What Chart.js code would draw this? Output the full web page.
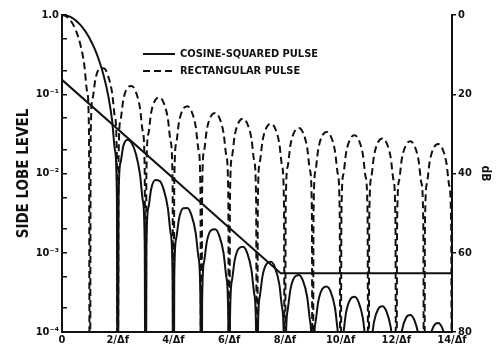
<!DOCTYPE html>
<html>
<head>
<meta charset="utf-8">
<script src="https://cdn.jsdelivr.net/npm/chart.js@4.4.1/dist/chart.umd.min.js"></script>
<style>
  html, body { margin: 0; padding: 0; background: #fff; }
  #wrap { width: 497px; height: 348px; }
</style>
</head>
<body>
<div id="wrap"><canvas id="lobes"></canvas></div>
<script>
// frequency in units of 1/Δf
var freq = [
  0, 0.03, 0.1, 0.2, 0.35, 0.5, 0.65, 0.8, 0.9, 0.97,
  1, 1.03, 1.1, 1.2, 1.35, 1.5, 1.65, 1.8, 1.9, 1.97,
  2, 2.03, 2.1, 2.2, 2.35, 2.5, 2.65, 2.8, 2.9, 2.97,
  3, 3.03, 3.1, 3.2, 3.35, 3.5, 3.65, 3.8, 3.9, 3.97,
  4, 4.03, 4.1, 4.2, 4.35, 4.5, 4.65, 4.8, 4.9, 4.97,
  5, 5.03, 5.1, 5.2, 5.35, 5.5, 5.65, 5.8, 5.9, 5.97,
  6, 6.03, 6.1, 6.2, 6.35, 6.5, 6.65, 6.8, 6.9, 6.97,
  7, 7.03, 7.1, 7.2, 7.35, 7.5, 7.65, 7.8, 7.9, 7.97,
  8, 8.03, 8.1, 8.2, 8.35, 8.5, 8.65, 8.8, 8.9, 8.97,
  9, 9.03, 9.1, 9.2, 9.35, 9.5, 9.65, 9.8, 9.9, 9.97,
  10, 10.03, 10.1, 10.2, 10.35, 10.5, 10.65, 10.8, 10.9, 10.97,
  11, 11.03, 11.1, 11.2, 11.35, 11.5, 11.65, 11.8, 11.9, 11.97,
  12, 12.03, 12.1, 12.2, 12.35, 12.5, 12.65, 12.8, 12.9, 12.97,
  13, 13.03, 13.1, 13.2, 13.35, 13.5, 13.65, 13.8, 13.9, 13.97,
  14
];

// cosine-squared pulse (solid)
var cosSquared = [
  1, 0.9994, 0.9935, 0.9745, 0.9234, 0.8488, 0.7555, 0.6497, 0.5753, 0.5228,
  0.5, 0.4775, 0.4258, 0.3544, 0.2554, 0.1698, 0.0998, 0.0464, 0.01983, 0.00528,
  1e-7, 0.004729, 0.01374, 0.02215, 0.02669, 0.02425, 0.01777, 0.009773, 0.004576, 0.001289,
  1e-7, 0.001208, 0.003685, 0.00633, 0.008282, 0.008084, 0.006306, 0.003664, 0.001775, 0.0005111,
  1e-7, 0.0004876, 0.001517, 0.002678, 0.003638, 0.003675, 0.002957, 0.001769, 0.0008722, 0.0002543,
  1e-7, 0.000245, 0.0007713, 0.001382, 0.001919, 0.001978, 0.001623, 0.0009887, 0.000493, 0.0001448,
  1e-7, 0.0001405, 0.0004452, 0.0008064, 0.001136, 0.001187, 0.0009868, 0.0006083, 0.0003057, 0.00009031,
  1e-7, 0.000088, 0.0002803, 0.0005114, 0.0007278, 0.0007681, 0.0006445, 0.0004011, 0.0002027, 0.0000601,
  1e-7, 0.00005876, 0.0001879, 0.0003447, 0.0004943, 0.0005256, 0.0004442, 0.0002783, 0.0001413, 0.00004202,
  1e-7, 0.00004118, 0.0001321, 0.0002432, 0.000351, 0.0003755, 0.000319, 0.000201, 0.0001024, 0.00003053,
  1e-7, 0.00002998, 0.0000964, 0.0001781, 0.0002582, 0.0002775, 0.0002369, 0.0001499, 0.0000766, 0.00002288,
  1e-7, 0.00002251, 0.0000725, 0.0001343, 0.0001955, 0.0002109, 0.0001807, 0.0001147, 0.00005878, 0.00001759,
  1e-7, 0.00001733, 0.0000559, 0.0001038, 0.0001515, 0.000164, 0.000141, 0.00008978, 0.0000461, 0.00001381,
  1e-7, 0.00001362, 0.000044, 0.00008185, 0.0001199, 0.0001301, 0.0001121, 0.00007158, 0.00003681, 0.00001104,
  1e-7
];

// rectangular pulse (dashed)
var rectangular = [
  1, 0.9985, 0.9836, 0.9355, 0.8103, 0.6366, 0.4363, 0.2339, 0.1093, 0.0309,
  1e-7, 0.02908, 0.08941, 0.156, 0.2101, 0.2122, 0.1719, 0.104, 0.05177, 0.0152,
  1e-7, 0.01476, 0.04684, 0.08507, 0.1207, 0.1273, 0.107, 0.06685, 0.03391, 0.01008,
  1e-7, 0.009885, 0.03173, 0.05849, 0.08466, 0.09095, 0.0777, 0.04925, 0.02522, 0.007545,
  1e-7, 0.007432, 0.02399, 0.04456, 0.0652, 0.07074, 0.06099, 0.03899, 0.02007, 0.006027,
  1e-7, 0.005955, 0.01929, 0.03599, 0.05301, 0.05787, 0.0502, 0.03227, 0.01667, 0.005017,
  1e-7, 0.004967, 0.01612, 0.03019, 0.04466, 0.04897, 0.04265, 0.02752, 0.01425, 0.004297,
  1e-7, 0.004261, 0.01385, 0.026, 0.03859, 0.04244, 0.03707, 0.024, 0.01245, 0.003758,
  1e-7, 0.00373, 0.01214, 0.02283, 0.03397, 0.03745, 0.03279, 0.02127, 0.01105, 0.003339,
  1e-7, 0.003317, 0.01081, 0.02034, 0.03033, 0.03351, 0.02939, 0.0191, 0.009935, 0.003004,
  1e-7, 0.002986, 0.009738, 0.01835, 0.0274, 0.03032, 0.02663, 0.01733, 0.009024, 0.00273,
  1e-7, 0.002716, 0.008861, 0.01671, 0.02499, 0.02768, 0.02434, 0.01586, 0.008265, 0.002502,
  1e-7, 0.00249, 0.008129, 0.01534, 0.02296, 0.02546, 0.02242, 0.01462, 0.007625, 0.002309,
  1e-7, 0.002299, 0.007508, 0.01418, 0.02124, 0.02358, 0.02078, 0.01356, 0.007076, 0.002144,
  1e-7
];

// straight envelope line
var envFreq = [0, 7.85, 14];
var envLevel = [0.152, 0.00055, 0.00055];

var leftTicks = [0.0001, 0.0002, 0.0005, 0.001, 0.002, 0.005, 0.01, 0.02, 0.05, 0.1, 0.2, 0.5, 1];
var leftLabels = ['10\u207B\u2074', '', '', '10\u207B\u00B3', '', '', '10\u207B\u00B2', '', '', '10\u207B\u00B9', '', '', '1.0'];
var dbTicks = [0, 20, 40, 60, 80];
var xTicks = [0, 2, 4, 6, 8, 10, 12, 14];
var legendNames = ['COSINE-SQUARED PULSE', 'RECTANGULAR PULSE'];

var FONT = "'DejaVu Sans Condensed', 'Liberation Sans Narrow', 'DejaVu Sans', sans-serif";
var INK = '#111';

function points(xs, ys) {
  var out = [];
  for (var i = 0; i < xs.length; i++) out.push({x: xs[i], y: ys[i]});
  return out;
}

var legendPlugin = {
  id: 'pulseLegend',
  afterDraw: function(chart) {
    var ctx = chart.ctx;
    var rows = [{y: 54, ds: chart.data.datasets[0]}, {y: 71, ds: chart.data.datasets[1]}];
    ctx.save();
    ctx.font = 'bold 11px ' + FONT;
    ctx.textBaseline = 'middle';
    ctx.fillStyle = INK;
    rows.forEach(function(r, i) {
      ctx.strokeStyle = r.ds.borderColor;
      ctx.lineWidth = r.ds.borderWidth;
      ctx.setLineDash(r.ds.borderDash || []);
      ctx.beginPath();
      ctx.moveTo(143, r.y);
      ctx.lineTo(175, r.y);
      ctx.stroke();
      ctx.fillText(legendNames[i], 180, r.y + 0.5);
    });
    ctx.restore();
  }
};

new Chart(document.getElementById('lobes'), {
  type: 'line',
  data: {
    datasets: [
      {
        label: legendNames[0],
        data: points(freq, cosSquared),
        borderColor: INK,
        borderWidth: 2,
        pointRadius: 0,
        cubicInterpolationMode: 'monotone',
        yAxisID: 'y'
      },
      {
        label: legendNames[1],
        data: points(freq, rectangular),
        borderColor: INK,
        borderWidth: 2,
        borderDash: [7, 4],
        pointRadius: 0,
        cubicInterpolationMode: 'monotone',
        yAxisID: 'y'
      },
      {
        label: 'envelope',
        data: points(envFreq, envLevel),
        borderColor: INK,
        borderWidth: 2,
        pointRadius: 0,
        tension: 0,
        yAxisID: 'y'
      }
    ]
  },
  options: {
    responsive: true,
    maintainAspectRatio: false,
    animation: false,
    events: [],
    layout: {padding: {top: 15, left: 0, right: 0, bottom: 0}},
    plugins: {
      legend: {display: false},
      tooltip: {enabled: false}
    },
    scales: {
      x: {
        type: 'linear',
        min: 0,
        max: 14,
        afterBuildTicks: function(scale) {
          scale.ticks = xTicks.map(function(v) { return {value: v}; });
        },
        afterFit: function(scale) { scale.height = 16; },
        ticks: {
          autoSkip: false,
          maxRotation: 0,
          padding: 2,
          color: INK,
          font: {family: FONT, size: 11, weight: 'bold'},
          callback: function(v) { return v === 0 ? '0' : v + '/\u0394f'; }
        },
        grid: {drawOnChartArea: false, drawTicks: false},
        border: {display: true, color: INK, width: 2}
      },
      y: {
        type: 'logarithmic',
        position: 'left',
        min: 0.0001,
        max: 1,
        afterBuildTicks: function(scale) {
          scale.ticks = leftTicks.map(function(v) { return {value: v}; });
        },
        afterFit: function(scale) { scale.width = 62; },
        ticks: {
          autoSkip: false,
          padding: 8,
          color: INK,
          font: {family: FONT, size: 11, weight: 'bold'},
          callback: function(v, i) { return leftLabels[i]; }
        },
        grid: {drawOnChartArea: false, tickLength: -5, color: INK, lineWidth: 1.5},
        border: {display: true, color: INK, width: 2},
        title: {
          display: true,
          text: 'SIDE LOBE LEVEL',
          color: INK,
          font: {family: FONT, size: 15, weight: 'bold'},
          padding: {top: 15, bottom: 0}
        }
      },
      db: {
        type: 'linear',
        position: 'right',
        min: 0,
        max: 80,
        reverse: true,
        afterBuildTicks: function(scale) {
          scale.ticks = dbTicks.map(function(v) { return {value: v}; });
        },
        afterFit: function(scale) { scale.width = 45; },
        ticks: {
          autoSkip: false,
          padding: 2,
          color: INK,
          font: {family: FONT, size: 11, weight: 'bold'}
        },
        grid: {drawOnChartArea: false, tickLength: 4, color: INK, lineWidth: 1.5},
        border: {display: true, color: INK, width: 2},
        title: {
          display: true,
          text: 'dB',
          color: INK,
          font: {family: FONT, size: 12, weight: 'bold'},
          padding: {top: 5, bottom: 0}
        }
      }
    }
  },
  plugins: [legendPlugin]
});
</script>
</body>
</html>
